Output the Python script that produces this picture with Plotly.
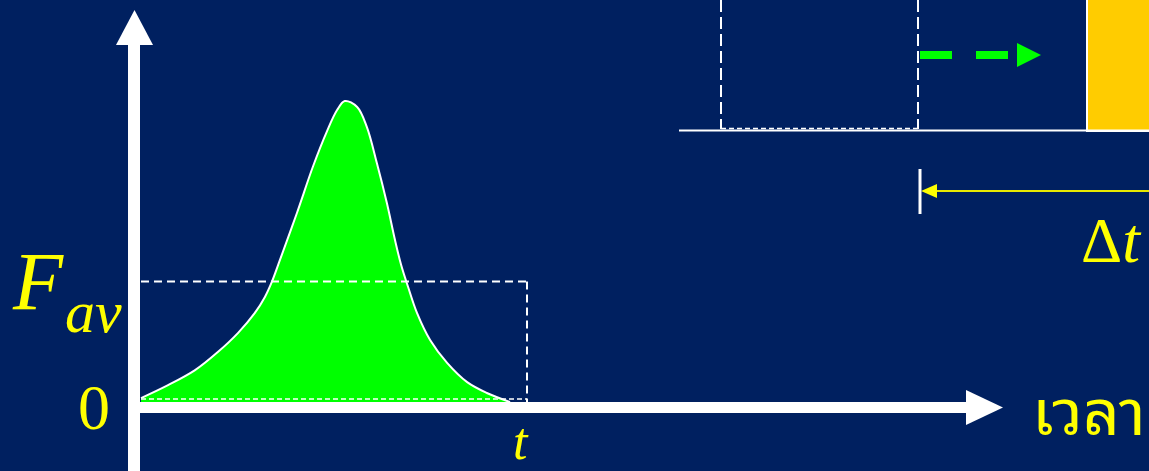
import plotly.graph_objects as go

# ---- data (time in units of t, force in units of peak force) ----
time = [0.000, 0.070, 0.140, 0.199, 0.251, 0.295, 0.321, 0.339, 0.360, 0.404, 0.446, 0.482, 0.508,
        0.528, 0.560, 0.585, 0.611, 0.637, 0.658, 0.674, 0.692, 0.715, 0.749, 0.793, 0.845, 0.896, 0.956]
force = [0.013, 0.056, 0.106, 0.166, 0.229, 0.296, 0.349, 0.399, 0.472, 0.628, 0.784, 0.900, 0.970,
         1.000, 0.980, 0.914, 0.794, 0.661, 0.538, 0.455, 0.382, 0.296, 0.206, 0.130, 0.066, 0.030, 0.000]
F_av = 0.40
t_end = 1.0
labels = {"zero": "0", "t": "t", "F": "F", "av": "av", "dt": "Δ", "time": "เวลา"}

W, H = 1149, 471
BG = "#002060"
YEL = "#FFFF00"

# axis mapping: t=0 at px 141, t=1 at px 527 ; F=0 at py 402, F=1 at py 101
X0, SX = 141.0, 386.0
Y0, SY = 402.0, 301.0
xr = [(0 - X0) / SX, (W - X0) / SX]
yr = [(Y0 - H) / SY, (Y0 - 0) / SY]


def px(x):
    return x / W


def py(y):
    return 1 - y / H


def path(pts):
    return "M " + " L ".join(f"{px(a)},{py(b)}" for a, b in pts) + " Z"


fig = go.Figure()
fig.add_trace(go.Scatter(x=time, y=force, mode="lines",
                         line=dict(color="white", width=2, shape="spline", smoothing=1.0),
                         fill="tozeroy", fillcolor="#00FF00", hoverinfo="skip"))

shapes = []
P = dict(xref="paper", yref="paper", layer="above")
# average-force dashed rectangle (data coords)
dash_rect = dict(color="white", width=2, dash="8px,5px")
shapes.append(dict(type="line", xref="x", yref="y", x0=0, x1=t_end, y0=F_av, y1=F_av, line=dash_rect, layer="above"))
shapes.append(dict(type="line", xref="x", yref="y", x0=t_end, x1=t_end, y0=F_av, y1=0, line=dash_rect, layer="above"))
shapes.append(dict(type="line", xref="x", yref="y", x0=0, x1=t_end, y0=0.01, y1=0.01,
                   line=dict(color="white", width=1.5, dash="5px,3px"), layer="above"))

# axes
shapes.append(dict(type="line", x0=px(134), x1=px(134), y0=py(44), y1=py(471), line=dict(color="white", width=12), **P))
shapes.append(dict(type="path", path=path([(116, 45), (153, 45), (134.5, 10)]), fillcolor="white", line=dict(width=0), **P))
shapes.append(dict(type="line", x0=px(140), x1=px(968), y0=py(407.5), y1=py(407.5), line=dict(color="white", width=11), **P))
shapes.append(dict(type="path", path=path([(966, 390), (966, 425), (1003, 407.5)]), fillcolor="white", line=dict(width=0), **P))

# top-right illustration
shapes.append(dict(type="rect", x0=px(1087), x1=px(1152), y0=py(131), y1=py(-5), fillcolor="#FFCC00",
                   line=dict(color="white", width=2), **P))
shapes.append(dict(type="line", x0=px(679), x1=px(1149), y0=py(130.5), y1=py(130.5), line=dict(color="white", width=2), **P))
dd = dict(color="white", width=2, dash="12px,5px")
shapes.append(dict(type="line", x0=px(721), x1=px(721), y0=py(0), y1=py(129), line=dd, **P))
shapes.append(dict(type="line", x0=px(918), x1=px(918), y0=py(0), y1=py(129), line=dd, **P))
shapes.append(dict(type="line", x0=px(721), x1=px(918), y0=py(128.5), y1=py(128.5),
                   line=dict(color="white", width=1.5, dash="5px,3px"), **P))
shapes.append(dict(type="line", x0=px(920), x1=px(1009), y0=py(55), y1=py(55),
                   line=dict(color="#00FF00", width=8, dash="32px,24px"), **P))
shapes.append(dict(type="path", path=path([(1017, 43), (1017, 67), (1041, 55)]), fillcolor="#00FF00", line=dict(width=0), **P))
# delta-t arrow
shapes.append(dict(type="line", x0=px(930), x1=px(1149), y0=py(191), y1=py(191), line=dict(color="#E8E800", width=2), **P))
shapes.append(dict(type="path", path=path([(921, 191), (937, 184), (937, 198)]), fillcolor=YEL, line=dict(width=0), **P))
shapes.append(dict(type="line", x0=px(920), x1=px(920), y0=py(169), y1=py(214), line=dict(color="white", width=3), **P))

serif = "Liberation Serif, Times New Roman, serif"
ann = []
A = dict(xref="paper", yref="paper", showarrow=False)
ann.append(dict(x=px(94), y=py(407), text=labels["zero"], font=dict(family=serif, size=64, color=YEL),
                xanchor="center", yanchor="middle", **A))
ann.append(dict(x=px(10), y=py(281), text=f"<i>{labels['F']}</i>", font=dict(family=serif, size=82, color=YEL),
                xanchor="left", yanchor="middle", **A))
ann.append(dict(x=px(63), y=py(312), text=f"<i>{labels['av']}</i>", font=dict(family=serif, size=60, color=YEL),
                xanchor="left", yanchor="middle", **A))
ann.append(dict(x=px(521), y=py(471), text=f"<i>{labels['t']}</i>", font=dict(family=serif, size=52, color=YEL),
                xanchor="center", yanchor="bottom", borderpad=0, **A))
ann.append(dict(x=px(1111), y=py(240), text=f"{labels['dt']}<i>t</i>", font=dict(family=serif, size=64, color=YEL),
                xanchor="center", yanchor="middle", **A))
ann.append(dict(x=px(1030), y=py(406), text=labels["time"],
                font=dict(family="Noto Sans Thai Looped, Noto Sans Thai, Tahoma, Noto Sans, DejaVu Sans, sans-serif",
                          size=64, color=YEL),
                xanchor="left", yanchor="middle", **A))

fig.update_layout(
    width=W, height=H, margin=dict(l=0, r=0, t=0, b=0),
    paper_bgcolor=BG, plot_bgcolor=BG, showlegend=False,
    xaxis=dict(range=xr, visible=False, fixedrange=True),
    yaxis=dict(range=yr, visible=False, fixedrange=True),
    shapes=shapes, annotations=ann,
)
fig.write_html("out.html", config={"displayModeBar": False},
               post_script="document.body.style.margin='0';document.body.style.overflow='hidden';")
